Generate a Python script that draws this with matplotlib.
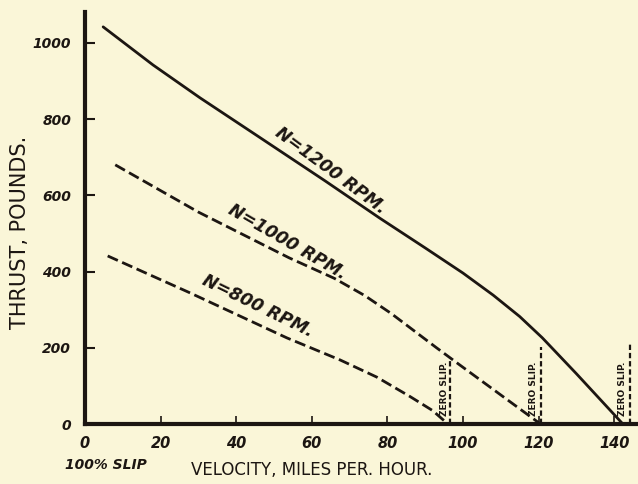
import matplotlib
matplotlib.use("Agg")
import matplotlib.pyplot as plt

# ── data ─────────────────────────────────────────────────────────────────────
vel_1200 = [4.8, 18, 30.4, 45, 63.5, 78, 90, 100, 108, 115, 121, 130, 142.3]
thr_1200 = [1042, 942, 856, 760, 638, 540, 462, 396, 338, 282, 226, 132, 0]

vel_1000 = [8, 30, 54, 66, 74, 81, 93, 99, 120.5]
thr_1000 = [680, 556, 436, 382, 337, 290, 200, 156, 0]

vel_800 = [6, 27.8, 53.4, 67.5, 77.2, 86, 92, 96]
thr_800 = [441, 344, 226, 168, 123, 72, 35, 0]

zero_slip_vel = [96.6, 120.6, 144.2]
zero_slip_top = [176, 203, 212]
zero_slip_lbl = [95.0, 118.6, 142.3]

x_ticks = [0, 20, 40, 60, 80, 100, 120, 140]
y_ticks = [0, 200, 400, 600, 800, 1000]

curve_labels = ["N=1200 RPM.", "N=1000 RPM.", "N=800 RPM."]

INK = "#1c1612"
PAPER = "#faf6d8"

fig = plt.figure(figsize=(6.38, 4.84), dpi=100, facecolor=PAPER)
ax = fig.add_axes([85 / 638, 60 / 484, 553 / 638, 412 / 484])
ax.set_facecolor(PAPER)
ax.set_xlim(0, 146.3)
ax.set_ylim(0, 1081)

# curves
ax.plot(vel_1200, thr_1200, color=INK, lw=2.0, solid_capstyle="round")
ax.plot(vel_1000, thr_1000, color=INK, lw=2.0, ls=(0, (4, 1.7)))
ax.plot(vel_800, thr_800, color=INK, lw=2.0, ls=(0, (4, 1.7)))

# zero slip markers
for v, top, lv in zip(zero_slip_vel, zero_slip_top, zero_slip_lbl):
    ax.plot([v, v], [0, top], color=INK, lw=1.6, ls=(0, (2.4, 1.3)))
    ax.text(lv, 22, "ZERO SLIP.", rotation=90, ha="center", va="bottom",
            fontsize=6.5, fontweight="bold", color=INK)

# curve labels
lab_pos = [(65, 664, -36.5), (53.4, 478, -30), (45.8, 310, -26)]
for txt, (x, y, ang) in zip(curve_labels, lab_pos):
    ax.text(x, y, txt, rotation=ang, rotation_mode="anchor", ha="center",
            va="center", fontsize=12.5, fontweight="bold", style="italic", color=INK)

# axes styling
for side in ["top", "right"]:
    ax.spines[side].set_visible(False)
for side in ["left", "bottom"]:
    ax.spines[side].set_linewidth(3.0)
    ax.spines[side].set_color(INK)

ax.set_xticks(x_ticks)
ax.set_yticks(y_ticks)
ax.tick_params(axis="y", direction="in", length=7, width=1.5, color=INK, pad=10,
               labelsize=10, labelcolor=INK)
ax.tick_params(axis="x", direction="in", length=6, width=1.2, color=INK, pad=9,
               labelsize=10.5, labelcolor=INK)
for lab in ax.get_xticklabels() + ax.get_yticklabels():
    lab.set_fontweight("bold")
    lab.set_style("italic")

fig.text(20 / 638, 1 - 232 / 484, "THRUST, POUNDS.", rotation=90, ha="center",
         va="center", fontsize=15, color=INK)
fig.text(312 / 638, 1 - 470 / 484, "VELOCITY, MILES PER. HOUR.", ha="center",
         va="center", fontsize=12, fontweight="medium", color=INK)
fig.text(65 / 638, 1 - 465 / 484, "100% SLIP", ha="left", va="center",
         fontsize=10, fontweight="bold", style="italic", color=INK)

fig.savefig("out.png", dpi=100, facecolor=PAPER)
